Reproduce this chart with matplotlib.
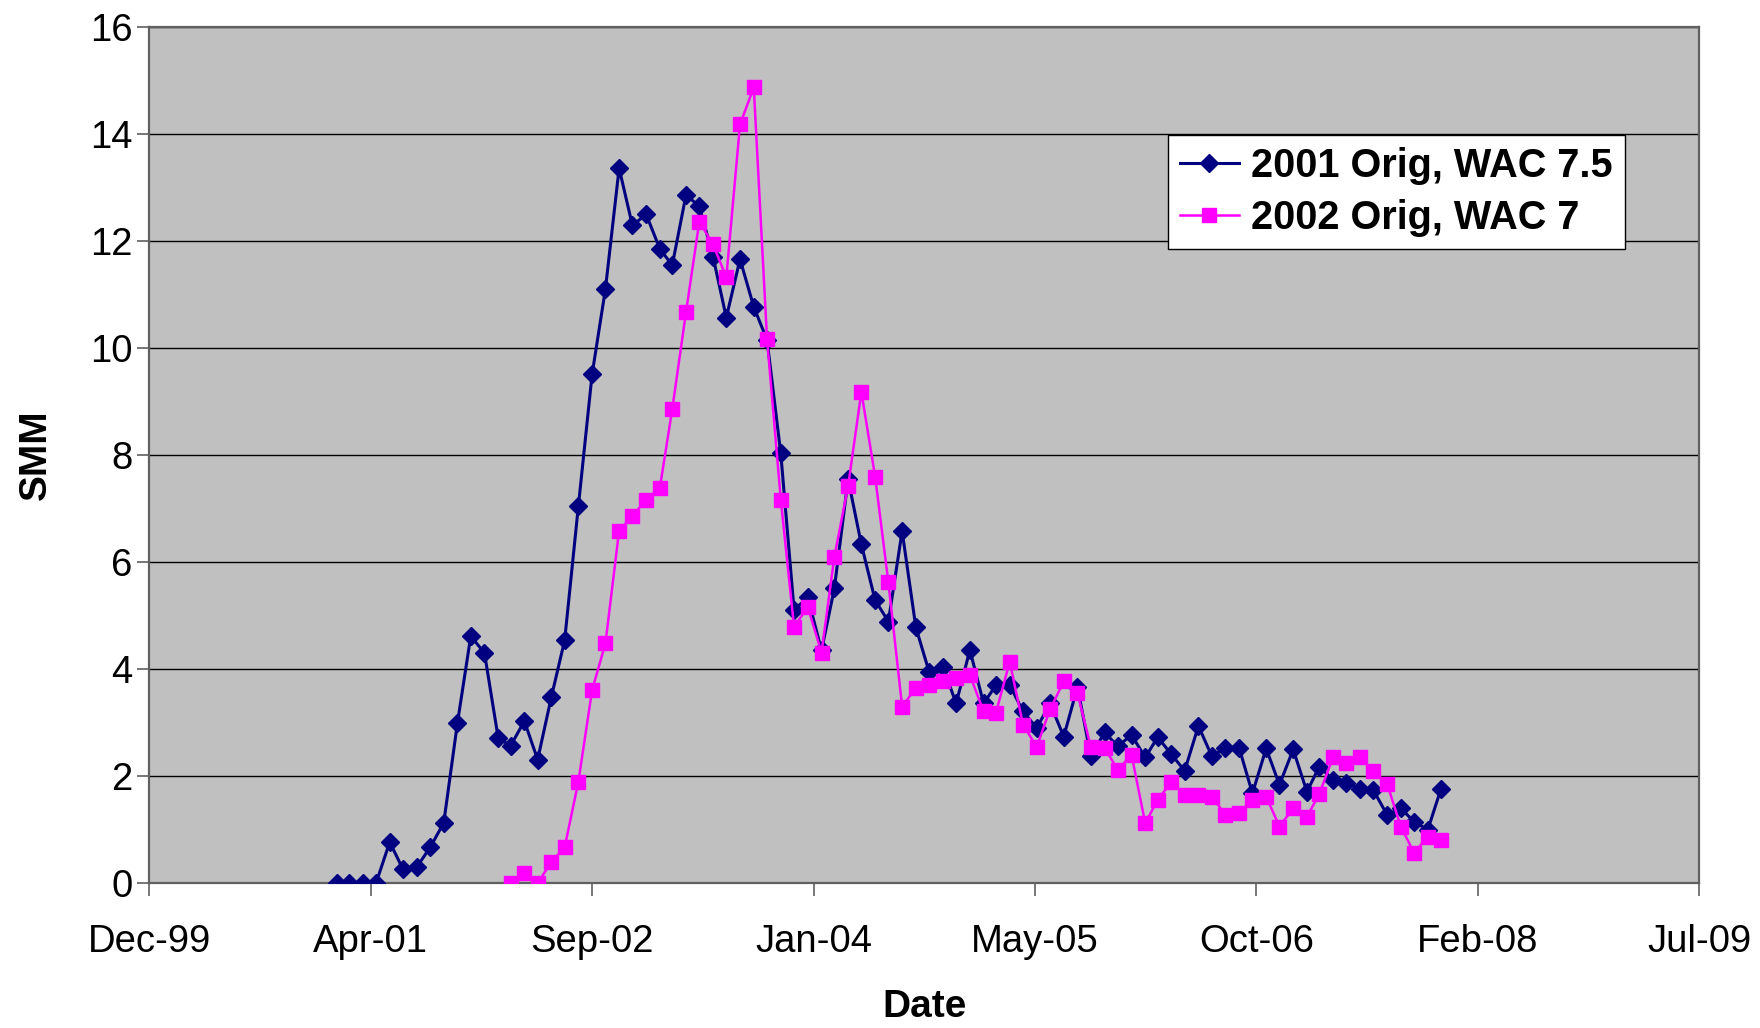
import datetime as dt

import matplotlib
matplotlib.use('Agg')
import matplotlib.pyplot as plt
import matplotlib.dates as mdates
import pandas as pd

# ──────────────────────────────────────────────────────────────────────────────
# Данни: месечни стойности на SMM
# ──────────────────────────────────────────────────────────────────────────────

start_2001 = '2001-02-01'
smm_2001 = [
    0.00, 0.00, 0.00, 0.00, 0.77, 0.26, 0.30, 0.68, 1.13, 3.00, 4.62,
    4.30, 2.71, 2.57, 3.03, 2.31, 3.48, 4.54, 7.05, 9.51, 11.10, 13.36, 12.29,
    12.50, 11.85, 11.55, 12.86, 12.65, 11.71, 10.57, 11.66, 10.77, 10.15, 8.03, 5.11,
    5.34, 4.35, 5.51, 7.55, 6.33, 5.29, 4.89, 6.58, 4.78, 3.95, 4.05, 3.36,
    4.36, 3.36, 3.70, 3.70, 3.21, 2.90, 3.36, 2.74, 3.67, 2.37, 2.82, 2.56,
    2.77, 2.35, 2.73, 2.41, 2.10, 2.94, 2.38, 2.52, 2.53, 1.68, 2.52, 1.84,
    2.50, 1.71, 2.18, 1.93, 1.88, 1.76, 1.74, 1.28, 1.40, 1.15, 1.00, 1.77,
]

start_2002 = '2002-03-01'
smm_2002 = [
    0.00, 0.20, 0.00, 0.40, 0.67, 1.90, 3.61, 4.48, 6.59, 6.86,
    7.17, 7.39, 8.86, 10.67, 12.36, 11.94, 11.32, 14.18, 14.87, 10.17, 7.17, 4.79,
    5.16, 4.31, 6.10, 7.42, 9.18, 7.60, 5.62, 3.30, 3.65, 3.70, 3.78, 3.83,
    3.89, 3.21, 3.19, 4.14, 2.96, 2.55, 3.25, 3.77, 3.55, 2.55, 2.53, 2.12,
    2.40, 1.12, 1.56, 1.89, 1.65, 1.65, 1.62, 1.28, 1.31, 1.56, 1.62, 1.06,
    1.40, 1.24, 1.67, 2.35, 2.24, 2.35, 2.09, 1.86, 1.06, 0.57, 0.87, 0.81,
]

label_2001 = '2001 Orig, WAC 7.5'
label_2002 = '2002 Orig, WAC 7'

# ос X: от 06.12.1999 до 06.07.2009, през 500 дни
x_min = dt.datetime(1999, 12, 6)
x_max = dt.datetime(2009, 7, 6)
tick_step_days = 500
y_ticks = [0, 2, 4, 6, 8, 10, 12, 14, 16]

dates_2001 = pd.date_range(start_2001, periods=len(smm_2001), freq='MS')
dates_2002 = pd.date_range(start_2002, periods=len(smm_2002), freq='MS')

plt.rcParams['font.family'] = ['Liberation Sans', 'DejaVu Sans']

fig = plt.figure(figsize=(17.6, 10.28), dpi=100, facecolor='white')
ax = fig.add_axes([0.0848, 0.1408, 0.8807, 0.8330])
ax.set_facecolor('#c0c0c0')

ax.plot(dates_2001, smm_2001, color='#000080', lw=2.2, marker='D', ms=9.5,
        mec='#000080', mfc='#000080', label=label_2001, zorder=4)
ax.plot(dates_2002, smm_2002, color='#ff00ff', lw=1.8, marker='s', ms=10.5,
        mec='#ff00ff', mfc='#ff00ff', label=label_2002, zorder=5)

# ── Оси ──
ax.set_xlim(x_min, x_max)
ticks = []
t = x_min
while t <= x_max:
    ticks.append(t)
    t += dt.timedelta(days=tick_step_days)
ax.set_xticks(ticks)
ax.xaxis.set_major_formatter(mdates.DateFormatter('%b-%y'))

ax.set_ylim(0, 16)
ax.set_yticks(y_ticks)
ax.yaxis.grid(True, color='black', lw=1.0)
ax.set_axisbelow(True)

for side in ['left', 'bottom', 'top', 'right']:
    ax.spines[side].set_color('#606060')
    ax.spines[side].set_linewidth(1.6)
ax.tick_params(axis='both', direction='out', length=9, width=1.2,
               color='#606060', labelsize=27.5, labelcolor='black')
ax.tick_params(axis='x', pad=20)
ax.tick_params(axis='y', pad=3)

ax.set_xlabel('Date', fontsize=28, fontweight='bold', labelpad=21)
ax.set_ylabel('SMM', fontsize=28, fontweight='bold', labelpad=26)

leg = ax.legend(loc='upper left', bbox_to_anchor=(0.6636, 0.8687),
                bbox_transform=fig.transFigure, fancybox=False, framealpha=1,
                edgecolor='black', facecolor='white',
                prop={'size': 28.5, 'weight': 'bold'},
                handlelength=1.5, handletextpad=0.3, borderpad=0.3,
                labelspacing=0.36, borderaxespad=0)
leg.get_frame().set_linewidth(1.0)

fig.savefig('out.png', dpi=100, facecolor='white')
